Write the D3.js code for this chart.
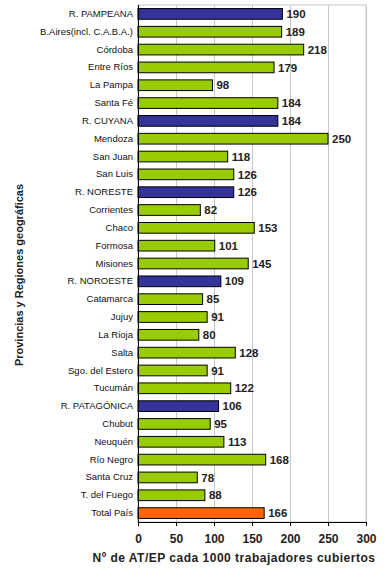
<!DOCTYPE html>
<html><head><meta charset="utf-8">
<script src="https://cdn.jsdelivr.net/npm/d3@7"></script>
<style>body{margin:0;background:#fff}svg{display:block}</style>
</head><body>
<svg id="c" width="385" height="571"></svg>
<script>
const categories = ["R. PAMPEANA","B.Aires(incl. C.A.B.A.)","Córdoba","Entre Ríos","La Pampa","Santa Fé","R. CUYANA","Mendoza","San Juan","San Luis","R. NORESTE","Corrientes","Chaco","Formosa","Misiones","R. NOROESTE","Catamarca","Jujuy","La Rioja","Salta","Sgo. del Estero","Tucumán","R. PATAGÓNICA","Chubut","Neuquén","Río Negro","Santa Cruz","T. del Fuego","Total País"];
const values = [190,189,218,179,98,184,184,250,118,126,126,82,153,101,145,109,85,91,80,128,91,122,106,95,113,168,78,88,166];
const kinds = ["region","prov","prov","prov","prov","prov","region","prov","prov","prov","region","prov","prov","prov","prov","region","prov","prov","prov","prov","prov","prov","region","prov","prov","prov","prov","prov","total"];
const xTicks = [0,50,100,150,200,250,300];
const xTitle = "Nº de AT/EP cada 1000 trabajadores cubiertos";
const yTitle = "Provincias y Regiones geográficas";

const colors = {region:"#333399", prov:"#99CC00", total:"#FF6600"};
const m = {left:138, right:366, top:5, bottom:522};
const svg = d3.select("#c");
const x = d3.scaleLinear().domain([0,300]).range([m.left, m.right]);
const y = d3.scaleBand().domain(categories).range([m.top, m.bottom]).paddingInner(0.4).paddingOuter(0.2);

// plot frame
svg.append("rect").attr("x",m.left).attr("y",m.top).attr("width",m.right-m.left).attr("height",m.bottom-m.top)
  .attr("fill","#fff").attr("stroke","#c8c8c8").attr("stroke-width",1);
// gridlines
svg.append("g").selectAll("line").data(xTicks.slice(1)).join("line")
  .attr("x1",d=>x(d)+0.5).attr("x2",d=>x(d)+0.5).attr("y1",m.top).attr("y2",m.bottom)
  .attr("stroke","#c8c8c8");

// bars
svg.append("g").selectAll("rect").data(categories).join("rect")
  .attr("x",x(0)).attr("y",d=>y(d)).attr("height",y.bandwidth())
  .attr("width",(d,i)=>x(values[i])-x(0))
  .attr("fill",(d,i)=>colors[kinds[i]]).attr("stroke","#000").attr("stroke-width",1);

// value labels
svg.append("g").selectAll("text").data(categories).join("text")
  .attr("x",(d,i)=>x(values[i])+4).attr("y",d=>y(d)+y.bandwidth()/2)
  .attr("dy","0.36em").attr("font-family","Liberation Sans, Arial, sans-serif")
  .attr("font-size","11.5px").attr("font-weight","bold").attr("fill","#222")
  .text((d,i)=>values[i]);

// y axis
const yAxis = svg.append("g").attr("transform",`translate(${m.left},0)`)
  .call(d3.axisLeft(y).tickSize(0).tickPadding(5));
yAxis.select(".domain").remove();
yAxis.selectAll("text").attr("font-family","Liberation Sans, Arial, sans-serif").attr("font-size","9.5px").attr("fill","#111");
svg.append("line").attr("x1",m.left+0.5).attr("x2",m.left+0.5).attr("y1",m.top).attr("y2",m.bottom+4).attr("stroke","#000");

// x axis
const xAxis = svg.append("g").attr("transform",`translate(0,${m.bottom})`)
  .call(d3.axisBottom(x).tickValues(xTicks).tickSize(4).tickPadding(8).tickSizeOuter(0));
xAxis.select(".domain").attr("stroke","#000");
xAxis.selectAll(".tick line").attr("stroke","#000");
xAxis.selectAll("text").attr("font-family","Liberation Sans, Arial, sans-serif").attr("font-size","12px").attr("font-weight","bold").attr("fill","#222");

// titles
svg.append("text").attr("x",234).attr("y",562).attr("text-anchor","middle")
  .attr("font-family","Liberation Sans, Arial, sans-serif").attr("font-size","12px").attr("font-weight","bold")
  .attr("letter-spacing","0.5px").attr("fill","#222").text(xTitle);
svg.append("text").attr("transform","translate(23,275) rotate(-90)").attr("text-anchor","middle")
  .attr("font-family","Liberation Sans, Arial, sans-serif").attr("font-size","11px").attr("font-weight","bold")
  .attr("fill","#222").text(yTitle);
</script>
</body></html>
